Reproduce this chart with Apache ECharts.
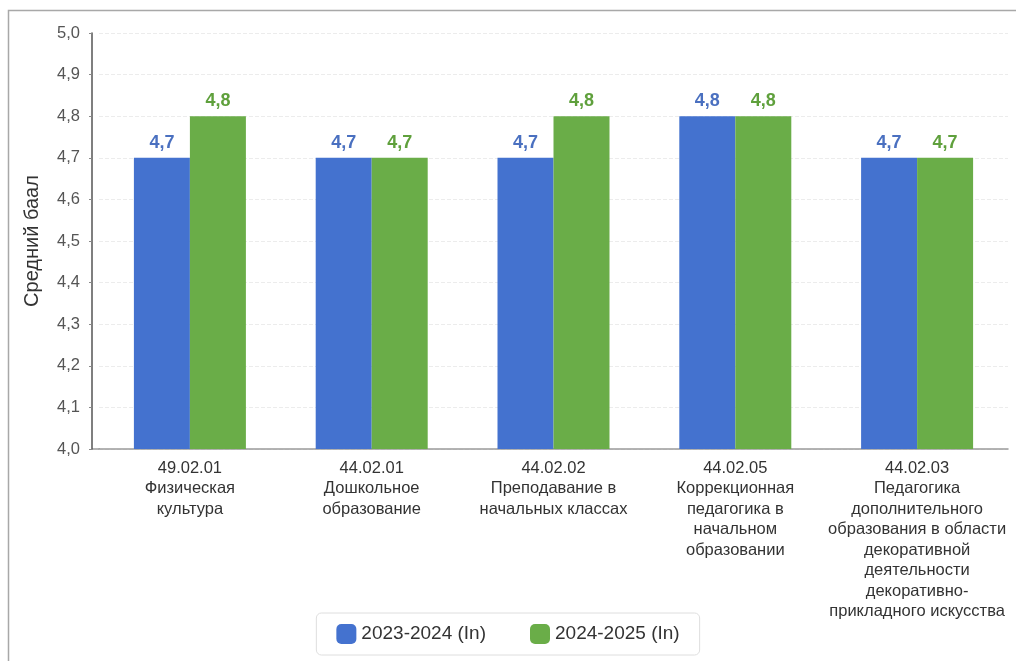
<!DOCTYPE html>
<html><head><meta charset="utf-8">
<script src="https://cdn.jsdelivr.net/npm/echarts@6/dist/echarts.min.js"></script>
<style>html,body{margin:0;padding:0;background:#fff}#c{width:1016px;height:661px}</style>
</head><body><div id="c"></div>
<script>
const categories = [
  "49.02.01\nФизическая\nкультура",
  "44.02.01\nДошкольное\nобразование",
  "44.02.02\nПреподавание в\nначальных классах",
  "44.02.05\nКоррекционная\nпедагогика в\nначальном\nобразовании",
  "44.02.03\nПедагогика\nдополнительного\nобразования в области\nдекоративной\nдеятельности\nдекоративно-\nприкладного искусства"
];
const seriesNames = ["2023-2024 (In)", "2024-2025 (In)"];
const values2023 = [4.7, 4.7, 4.7, 4.8, 4.7];
const values2024 = [4.8, 4.7, 4.8, 4.8, 4.7];

const chart = echarts.init(document.getElementById('c'));
const font = '"Liberation Sans", Arial, sans-serif';
const fmt = v => v.toFixed(1).replace('.', ',');
chart.setOption({
  animation: false,
  textStyle: {fontFamily: font},
  graphic: [
    {type:'rect', shape:{x:8.5, y:10.5, width:1200, height:800},
      style:{fill:'none', stroke:'#a8a8a8', lineWidth:1.5}, z:-1},
    {type:'line', shape:{x1:92, y1:449, x2:100, y2:449},
      style:{stroke:'#9a9a9a', lineWidth:1.5}}
  ],
  grid: {left: 99, right: 8, top: 33, bottom: 212},
  legend: {
    bottom: 6, left: 'center',
    itemWidth: 20, itemHeight: 20, itemGap: 44,
    padding: [11, 20, 11, 20],
    borderColor: '#dedede', borderWidth: 1, borderRadius: 5,
    textStyle: {fontSize: 19, color: '#333', fontFamily: font},
    icon: 'roundRect',
    data: seriesNames
  },
  xAxis: {
    type: 'category', data: categories,
    axisLine: {lineStyle: {color: '#9a9a9a', width: 1.5}},
    axisTick: {show: false},
    axisLabel: {fontSize: 16.5, color: '#333', lineHeight: 20.5, margin: 9, interval: 0}
  },
  yAxis: {
    type: 'value', min: 4.0, max: 5.0, interval: 0.1, offset: 7,
    name: 'Средний баал', nameLocation: 'middle', nameGap: 50,
    nameTextStyle: {fontSize: 20, color: '#333'},
    axisLine: {show: true, lineStyle: {color: '#555', width: 1.5}},
    axisTick: {show: true, length: 3, lineStyle: {color: '#888'}},
    axisLabel: {fontSize: 16.5, color: '#555', margin: 12, formatter: fmt},
    splitLine: {lineStyle: {color: '#ececec', type: 'dashed'}}
  },
  series: [
    {name: seriesNames[0], type: 'bar', data: values2023, barWidth: 56, barGap: '0%',
     itemStyle: {color: '#4472cf'},
     label: {show: true, position: 'top', distance: 6, fontSize: 18, fontWeight: 'bold', color: '#4a70c0',
       formatter: p => fmt(p.value)}},
    {name: seriesNames[1], type: 'bar', data: values2024, barWidth: 56, barGap: '0%',
     itemStyle: {color: '#6aad48'},
     label: {show: true, position: 'top', distance: 6, fontSize: 18, fontWeight: 'bold', color: '#5fa03c',
       formatter: p => fmt(p.value)}}
  ]
});
</script></body></html>
